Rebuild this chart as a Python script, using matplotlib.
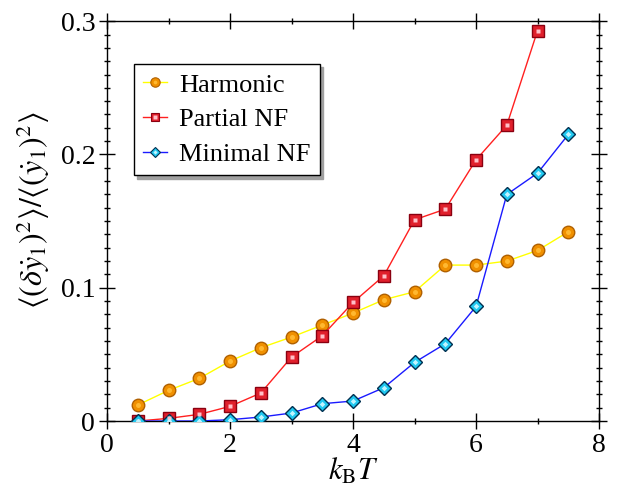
import numpy as np
import matplotlib
matplotlib.use("Agg")
import matplotlib.pyplot as plt
from matplotlib.ticker import MultipleLocator
from matplotlib.lines import Line2D

plt.rcParams['font.family'] = ['Liberation Serif', 'DejaVu Serif']
plt.rcParams['mathtext.fontset'] = 'stix'

# data
kT = [0.5, 1.0, 1.5, 2.0, 2.5, 3.0, 3.5, 4.0, 4.5, 5.0, 5.5, 6.0, 6.5, 7.0, 7.5]
harmonic = [0.012, 0.023, 0.032, 0.045, 0.055, 0.063, 0.072, 0.081, 0.091, 0.097,
            0.117, 0.117, 0.120, 0.128, 0.142]
kT_partial = kT[:-1]
partial = [0.000, 0.002, 0.005, 0.011, 0.021, 0.048, 0.064, 0.089, 0.109, 0.151,
           0.159, 0.196, 0.222, 0.293]
minimal = [0.000, 0.000, 0.000, 0.001, 0.003, 0.006, 0.013, 0.015, 0.025, 0.044,
           0.058, 0.086, 0.170, 0.186, 0.215]
labels = ['Harmonic', 'Partial NF', 'Minimal NF']

# marker styles: (line colour, marker, size, face, edge, highlight)
styles = [
    ('#ffff00', 'o', 9, '#f09000', '#b06000', '#ffb830'),
    ('#ff2020', 's', 8, '#e0202c', '#8a0010', '#ffc0c8'),
    ('#1a1aff', 'D', 7, '#20c8f0', '#003050', '#c0f4ff'),
]

fig = plt.figure(figsize=(6.26, 4.93), dpi=100)
ax = fig.add_axes([0.171, 0.146, 0.786, 0.811])

handles = []
for (xs, ys), (lc, mk, ms, fc, ec, hc) in zip(
        [(kT, harmonic), (kT_partial, partial), (kT, minimal)], styles):
    ax.plot(xs, ys, '-', color=lc, lw=1.0, marker=mk, ms=ms, mfc=fc, mec=ec,
            mew=1.0, zorder=3)
    ax.plot(xs, ys, ' ', marker=mk, ms=ms * 0.4, mfc=hc, mec='none', zorder=4)
    big = Line2D([], [], color=lc, lw=1.0, marker=mk, ms=ms * 0.75, mfc=fc, mec=ec, mew=0.8)
    small = Line2D([], [], ls='', marker=mk, ms=ms * 0.3, mfc=hc, mec='none')
    handles.append((big, small))

ax.set_xlim(0, 8)
ax.set_ylim(0, 0.3)
ax.xaxis.set_minor_locator(MultipleLocator(1))
ax.yaxis.set_minor_locator(MultipleLocator(0.01))
ax.set_xticks([0, 2, 4, 6, 8], ['0', '2', '4', '6', '8'])
ax.set_yticks([0, 0.1, 0.2, 0.3], ['0', '0.1', '0.2', '0.3'])
ax.tick_params(which='both', direction='inout', top=True, right=True, labelsize=20,
               width=1.0)
ax.tick_params(which='major', length=11, pad=3)
ax.tick_params(which='minor', length=5)
for s in ax.spines.values():
    s.set_linewidth(1.0)

ax.set_xlabel(r'$k_{\mathrm{B}}T$', fontsize=22, labelpad=-1)
ax.set_ylabel(r'$\langle(\delta\dot{y}_1)^2\rangle/\langle(\dot{y}_1)^2\rangle$',
              fontsize=23)
ax.yaxis.set_label_coords(-0.112, 0.528)

leg = ax.legend(handles, labels, loc='upper left',
                bbox_to_anchor=(134 / 626, 1 - 64 / 493), bbox_transform=fig.transFigure,
                fontsize=19, frameon=True, fancybox=False,
                shadow={'color': '#a0a0a0', 'alpha': 1, 'ox': 2.5, 'oy': -2.5},
                edgecolor='black', handlelength=0.9, handletextpad=0.45,
                borderpad=0.35, labelspacing=0.42, borderaxespad=0)
leg.get_frame().set_linewidth(1.0)

fig.savefig('out.png', dpi=100)
